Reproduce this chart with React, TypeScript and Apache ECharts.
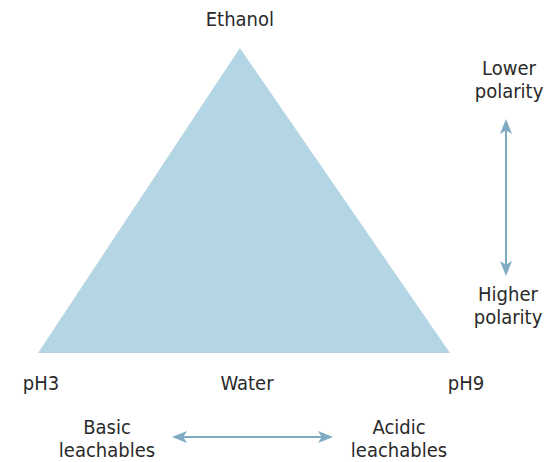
import React, { useEffect, useRef } from "react";
import * as echarts from "echarts";

// Ternary-like diagram vertices in unit coordinates (u: left→right, v: bottom→top)
const vertexNames = ["pH3", "Ethanol", "pH9"];
const vertexU = [0, 0.49, 1];
const vertexV = [0, 1, 0];

const bottomLabels = ["pH3", "Water", "pH9"];
const polarityLabels = ["Lower\npolarity", "Higher\npolarity"];
const leachableLabels = ["Basic\nleachables", "Acidic\nleachables"];

const W = 553;
const H = 462;
const FONT = "'DejaVu Sans Condensed', 'Liberation Sans Narrow', sans-serif";
const TXT = "#2a2a2a";
const ARROW = "#7eabc1";
const FILL = "#b4d5e4";

function arrowGraphics(x1: number, y1: number, x2: number, y2: number) {
  const dx = x2 - x1;
  const dy = y2 - y1;
  const len = Math.sqrt(dx * dx + dy * dy);
  const ux = dx / len;
  const uy = dy / len;
  const px = -uy;
  const py = ux;
  const hl = 15;
  const hw = 6;
  const head = (tx: number, ty: number, dir: number) => ({
    type: "polygon",
    shape: {
      points: [
        [tx, ty],
        [tx - dir * ux * hl + px * hw, ty - dir * uy * hl + py * hw],
        [tx - dir * ux * hl * 0.75, ty - dir * uy * hl * 0.75],
        [tx - dir * ux * hl - px * hw, ty - dir * uy * hl - py * hw],
      ],
    },
    style: { fill: ARROW },
  });
  return [
    {
      type: "line",
      shape: { x1: x1 + ux * 8, y1: y1 + uy * 8, x2: x2 - ux * 8, y2: y2 - uy * 8 },
      style: { stroke: ARROW, lineWidth: 2 },
    },
    head(x1, y1, -1),
    head(x2, y2, 1),
  ];
}

function text(t: string, x: number, y: number) {
  return {
    type: "text",
    x,
    y,
    style: {
      text: t,
      fill: TXT,
      font: `20px ${FONT}`,
      align: "center",
      verticalAlign: "middle",
      lineHeight: 23,
    },
  };
}

export default function App() {
  const ref = useRef<HTMLDivElement>(null);
  useEffect(() => {
    if (!ref.current) return;
    const chart = echarts.init(ref.current, undefined, { renderer: "svg" });
    const data = vertexU.map((u, i) => [u, vertexV[i]]);
    chart.setOption({
      animation: false,
      grid: { left: 0, right: 0, top: 0, bottom: 0 },
      xAxis: { type: "value", min: -38 / 412, max: 515 / 412, show: false },
      yAxis: { type: "value", min: -109 / 305, max: 353 / 305, show: false },
      series: [
        {
          type: "custom",
          data: [0],
          renderItem: (_params: any, api: any) => {
            const pts = data.map((d) => api.coord(d));
            return {
              type: "polygon",
              shape: { points: pts },
              style: { fill: FILL },
            };
          },
          silent: true,
        },
        {
          type: "scatter",
          data: [data[1]],
          symbolSize: 0,
          itemStyle: { opacity: 1 },
          label: {
            show: true,
            formatter: vertexNames[1],
            position: "top",
            distance: 19,
            color: TXT,
            opacity: 1,
            fontFamily: FONT,
            fontSize: 20,
          },
          silent: true,
        },
      ],
      graphic: [
        text(bottomLabels[0], 41, 383),
        text(bottomLabels[1], 247, 383),
        text(bottomLabels[2], 466, 383),
        text(polarityLabels[0], 509, 79),
        text(polarityLabels[1], 508, 305),
        text(leachableLabels[0], 107, 438),
        text(leachableLabels[1], 399, 438),
        ...arrowGraphics(506, 119, 506, 276),
        ...arrowGraphics(172, 437, 333, 437),
      ],
    });
    return () => chart.dispose();
  }, []);
  return (
    <div
      ref={ref}
      style={{ position: "fixed", left: 0, top: 0, width: W, height: H, background: "#fff" }}
    />
  );
}
